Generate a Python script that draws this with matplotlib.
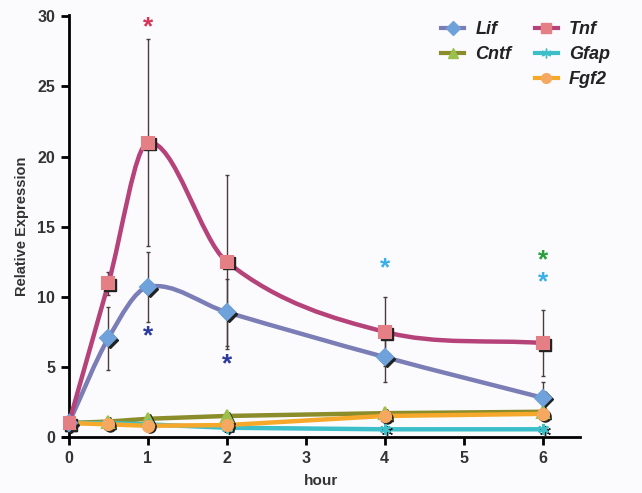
import numpy as np
import matplotlib
matplotlib.use("Agg")
import matplotlib.pyplot as plt
from matplotlib.path import Path
from matplotlib.patches import PathPatch
from matplotlib.lines import Line2D

plt.rcParams['font.family'] = ['Liberation Sans', 'DejaVu Sans']

# time points (hours)
hours = [0, 0.5, 1, 2, 4, 6]

# relative expression per gene
lif = [1.0, 7.05, 10.7, 8.9, 5.7, 2.8]
lif_err = [0, 2.25, 2.5, 2.4, 1.8, 1.15]
tnf = [1.0, 10.95, 21.0, 12.5, 7.5, 6.7]
tnf_err = [0, 0.8, 7.4, 6.2, 2.45, 2.35]
cntf = [1.0, 1.1, 1.3, 1.5, 1.7, 1.8]
gfap = [1.0, 1.0, 0.9, 0.66, 0.55, 0.55]
fgf2 = [1.0, 0.9, 0.8, 0.85, 1.5, 1.65]

# significance stars: (hour, y, color)
star_x = [1, 1, 2, 4, 6, 6]
star_y = [29.2, 7.2, 5.2, 12.0, 11.0, 12.6]
star_c = ['#d8355a', '#2b3a9c', '#2b3a9c', '#3ab0ea', '#3ab0ea', '#2a9e3e']


def smooth_path(xs, ys):
    """Smooth path through the points, built from cubic Beziers."""
    xs = np.asarray(xs, float)
    ys = np.asarray(ys, float)
    n = len(xs)
    verts = [(xs[0], ys[0])]
    codes = [Path.MOVETO]
    for i in range(n - 1):
        i0 = max(i - 1, 0)
        i3 = min(i + 2, n - 1)
        h = xs[i + 1] - xs[i]
        m1 = (ys[i + 1] - ys[i0]) / (xs[i + 1] - xs[i0]) if i > 0 else (ys[1] - ys[0]) / h
        m2 = (ys[i3] - ys[i]) / (xs[i3] - xs[i]) if i + 1 < n - 1 else (ys[-1] - ys[-2]) / h
        c1 = (xs[i] + h / 3, ys[i] + m1 * h / 3)
        c2 = (xs[i + 1] - h / 3, ys[i + 1] - m2 * h / 3)
        verts += [c1, c2, (xs[i + 1], ys[i + 1])]
        codes += [Path.CURVE4] * 3
    return Path(verts, codes)


fig = plt.figure(figsize=(6.42, 4.93), dpi=100, facecolor='#fbfbfd')
ax = fig.add_axes([0.098, 0.1136, 0.805, 0.856])
ax.set_facecolor('#fbfbfd')

series = [
    (cntf, None, '#8b8c2a', '^', '#9cc04c', 'Cntf', False),
    (gfap, None, '#3dbfc9', (6, 2, 0), '#3dbfc9', 'Gfap', False),
    (fgf2, None, '#f6a82a', 'o', '#f5a860', 'Fgf2', False),
    (lif, lif_err, '#7b7db6', 'D', '#6fa2da', 'Lif', True),
    (tnf, tnf_err, '#b6427a', 's', '#e57f86', 'Tnf', True),
]

handles = {}
for vals, err, lcol, mk, mcol, name, curved in series:
    if err is not None:
        ax.errorbar(hours[1:], vals[1:], yerr=err[1:], fmt='none', ecolor='#4a3c3c',
                    elinewidth=1.0, capsize=1.5, capthick=1.0, zorder=2)
    if curved:
        patch = PathPatch(smooth_path(hours, vals), facecolor='none', edgecolor=lcol,
                          lw=3.2, zorder=3, capstyle='round')
        ax.add_patch(patch)
    else:
        ax.plot(hours, vals, color=lcol, lw=3.2, zorder=3, solid_capstyle='round')
    ms = 9 if mk == 's' else 8
    # dark shadow behind markers
    ax.plot([h + 0.025 for h in hours], [v - 0.12 for v in vals], ls='none', marker=mk,
            ms=ms, color='#222222', mec='#222222', zorder=4)
    ax.plot(hours, vals, ls='none', marker=mk, ms=ms, color=mcol, mec=mcol,
            mew=1.5, zorder=5)
    handles[name] = Line2D([], [], color=lcol, lw=3, marker=mk, ms=7, mfc=mcol, mec=mcol)

for x, y, c in zip(star_x, star_y, star_c):
    ax.text(x, y, '*', color=c, fontsize=19, fontweight='bold', ha='center', va='center')

ax.set_xlim(-0.076, 6.47)
ax.set_ylim(0, 30.1)
ax.set_xticks([0, 1, 2, 3, 4, 5, 6])
ax.set_yticks([0, 5, 10, 15, 20, 25, 30])
ax.spines['left'].set_position(('data', 0))
ax.spines['top'].set_visible(False)
ax.spines['right'].set_visible(False)
for s in ('left', 'bottom'):
    ax.spines[s].set_linewidth(2)
ax.tick_params(width=2, length=6, labelsize=11.5, pad=4)
for lab in ax.get_xticklabels() + ax.get_yticklabels():
    lab.set_fontweight('bold')
    lab.set_color('#333333')
ax.set_xlabel('hour', fontsize=11, fontweight='bold', color='#333333', labelpad=6)
ax.set_ylabel('Relative Expression', fontsize=10.5, fontweight='bold', color='#333333',
              labelpad=6)

blank = Line2D([], [], ls='none')
order = [handles['Lif'], handles['Cntf'], blank, handles['Tnf'], handles['Gfap'], handles['Fgf2']]
labels = ['Lif', 'Cntf', '', 'Tnf', 'Gfap', 'Fgf2']
leg = ax.legend(order, labels, ncol=2, loc='upper right', bbox_to_anchor=(1.09, 1.024),
                frameon=False, handlelength=1.3, handletextpad=0.6, columnspacing=1.3,
                labelspacing=0.45,
                prop={'size': 13, 'weight': 'bold', 'style': 'italic'})
for t in leg.get_texts():
    t.set_color('#222222')

fig.savefig('out.png', dpi=100, facecolor=fig.get_facecolor())
